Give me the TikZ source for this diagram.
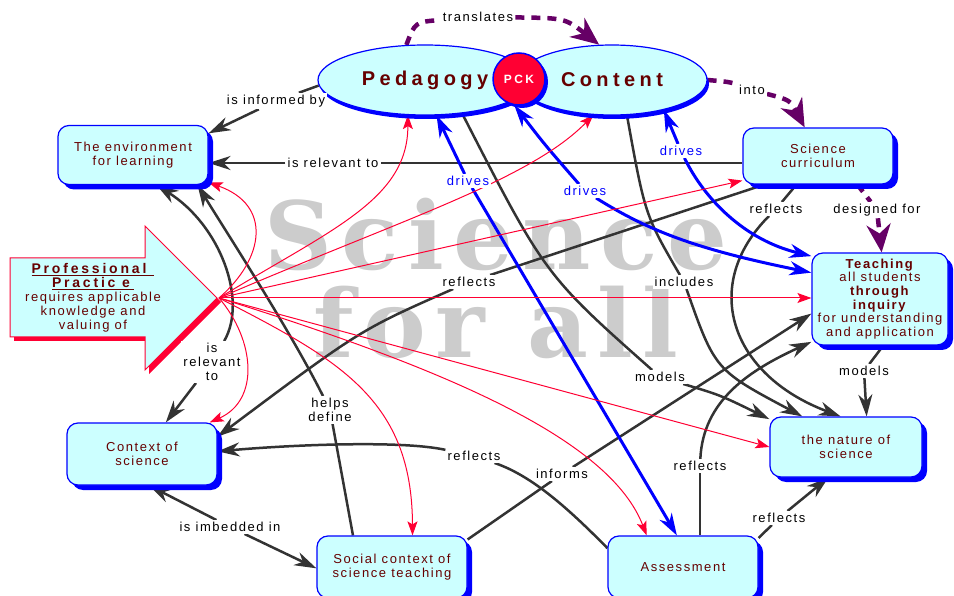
\documentclass[tikz,border=0pt]{standalone}
\usepackage{fontspec}
\setmainfont{Liberation Sans}
\newfontfamily\lblfont{Liberation Sans}[LetterSpace=12]
\newfontfamily\bigfont{Liberation Sans}[LetterSpace=22]
\newfontfamily\ppfont{Liberation Sans}[LetterSpace=20]
\newfontfamily\wmfont{DejaVu Serif}[LetterSpace=10]
\usetikzlibrary{arrows.meta,shapes.geometric,shadows}
\pgfdeclarelayer{wm}
\pgfdeclarelayer{lines}
\pgfsetlayers{wm,lines,main}

\definecolor{boxfill}{HTML}{CCFFFF}
\definecolor{bblue}{HTML}{0000FF}
\definecolor{maroon}{HTML}{660000}
\definecolor{lgray}{HTML}{333333}
\definecolor{pred}{HTML}{FF0033}
\definecolor{purp}{HTML}{660066}
\definecolor{wmgray}{HTML}{CCCCCC}

\tikzset{
  BlkTip/.tip={Stealth[length=22pt,width=14pt,inset=7pt]},
  BluTip/.tip={Stealth[length=22pt,width=14pt,inset=7pt]},
  RedTip/.tip={Stealth[length=14pt,width=10pt,inset=3pt]},
  PurTip/.tip={Stealth[length=28pt,width=24pt,inset=9pt]},
  box/.style={draw=bblue, line width=1.2pt, fill=boxfill, rounded corners=11pt,
    minimum width=150pt, minimum height=60pt, align=center, text=maroon,
    font={\lblfont\fontsize{13}{14}\selectfont}, inner sep=2pt,
    drop shadow={shadow xshift=5pt, shadow yshift=-5pt, fill=bblue, opacity=1}},
  ell/.style={ellipse, draw=bblue, line width=1.2pt, fill=boxfill, inner sep=0pt,
    drop shadow={shadow xshift=2pt, shadow yshift=-4pt, fill=bblue, opacity=1},
    text=maroon, font={\bigfont\bfseries\fontsize{20}{22}\selectfont}},
  lbl/.style={fill=white, inner sep=2pt, align=center,
    font={\lblfont\fontsize{13}{14}\selectfont}, text=black},
  blbl/.style={lbl, text=bblue},
  wmtext/.style={inner sep=0pt, anchor=base, text=wmgray, text depth=0pt,
    font={\wmfont\bfseries\fontsize{94}{94}\selectfont}},
  blk/.style={draw=lgray, line width=2.5pt},
  blu/.style={draw=bblue, line width=3pt},
  red1/.style={draw=pred, line width=1pt, -{RedTip}},
  pur/.style={draw=purp, line width=4.5pt, dash pattern=on 9pt off 7pt}
}

\begin{document}
\begin{tikzpicture}[x=1pt,y=-1pt]
\useasboundingbox (0,0) rectangle (954,596);
\clip (0,0) rectangle (954,596);

% watermark
\begin{pgfonlayer}{wm}
\node[wmtext] (wm1) at (496,270) {Science};
\node[wmtext] (wm2) at (496,358) {for all};
\end{pgfonlayer}

% Professional practice arrow
\fill[pred] (14,262) -- (149,262) -- (149,230) -- (221,302) -- (149,374) -- (149,341) -- (14,341) -- cycle;
\draw[pred, line width=1pt, fill=boxfill] (10,258) -- (145,258) -- (145,226) -- (217,298) -- (145,370) -- (145,337) -- (10,337) -- cycle;
\coordinate (pptip) at (219,298);
\node[align=center, text=maroon, font={\lblfont\fontsize{13}{14}\selectfont}] (pp) at (93,298)
  {{\ppfont\bfseries\fontsize{14}{15}\selectfont\underline{Professional\hspace{8pt}}}\\
   {\ppfont\bfseries\fontsize{14}{15}\selectfont\underline{Practic e\hspace{4pt}}}\\
   requires applicable\\knowledge and\\valuing of};

% main concepts
\node[ell, minimum width=214pt, minimum height=70pt] (ped) at (425,80) {Pedagogy};
\node[ell, minimum width=190pt, minimum height=70pt] (con) at (612,80) {Content};
\node[circle, fill=pred, draw=bblue, line width=1.5pt, minimum size=52pt, inner sep=0pt,
  text=white, font={\ppfont\bfseries\fontsize{12}{12}\selectfont},
  drop shadow={shadow xshift=3pt, shadow yshift=-3pt, fill=bblue, opacity=1}] (pck) at (519,79) {PCK};

\node[box, minimum height=59pt] (env) at (133,155) {The environment\\for learning};
\node[box, minimum height=56pt] (cur) at (818,156) {Science\\curriculum};
\node[box, minimum width=136pt, minimum height=92pt, font={\lblfont\fontsize{13}{13.6}\selectfont}] (tea) at (880,299)
  {\textbf{Teaching}\\all students\\\textbf{through}\\\textbf{inquiry}\\for understanding\\and application};
\node[box, minimum height=62pt] (ctx) at (142,454) {Context of\\science};
\node[box, minimum height=62pt] (soc) at (392,567) {Social context of\\science teaching};
\node[box, minimum width=152pt, minimum height=60pt] (nat) at (846,447) {the nature of\\science};
\node[box, minimum height=62pt] (ass) at (683,567) {Assessment};

% linking phrases
\node[lbl] (tr) at (478,17) {translates};
\node[lbl] (into) at (752,90) {into};
\node[lbl] (des) at (877,210) {designed for};
\node[lbl] (inf) at (276,101) {is informed by};
\node[lbl] (rel1) at (333,163) {is relevant to};
\node[lbl] (rel2) at (212,362) {is\\relevant\\to};
\node[lbl] (hd) at (330,410) {helps\\define};
\node[lbl] (rf1) at (469,282) {reflects};
\node[lbl] (rf2) at (776,209) {reflects};
\node[lbl] (inc) at (684,282) {includes};
\node[lbl] (mo1) at (660,377) {models};
\node[lbl] (mo2) at (864,371) {models};
\node[lbl] (infm) at (562,474) {informs};
\node[lbl] (rf3) at (700,466) {reflects};
\node[lbl] (rf4) at (779,518) {reflects};
\node[lbl] (rf5) at (474,456) {reflects};
\node[lbl] (imb) at (230,527) {is imbedded in};
\node[blbl] (dr1) at (468,181) {drives};
\node[blbl] (dr2) at (585,191) {drives};
\node[blbl] (dr3) at (681,151) {drives};

\begin{pgfonlayer}{lines}
% purple dashed
\draw[pur] (ped.118) .. controls (415,22) .. (tr);
\draw[pur, -{PurTip}] (tr) .. controls (565,18) .. (con.110);
\draw[pur] (con.east) .. controls (730,82) .. (into);
\draw[pur, -{PurTip}] (into) .. controls (790,100) .. (cur.115);
\draw[pur] (cur.-36) -- (des);
\draw[pur, -{PurTip}] (des) -- (tea.88);

% black
\draw[blk] (ped.183) -- (inf);
\draw[blk, -{BlkTip}] (inf) -- (env.16);
\draw[blk] (cur.west |- rel1) -- (rel1);
\draw[blk, -{BlkTip}] (rel1) -- (rel1 -| env.east);
\draw[blk, -{BlkTip}] (rel2) .. controls (248,300) and (220,225) .. (env.-52);
\draw[blk, -{BlkTip}] (rel2) -- (ctx.53);
\draw[blk] (soc.141) -- (hd);
\draw[blk, -{BlkTip}] (hd) .. controls (290,330) and (225,230) .. (env.-25);
\draw[blk] (cur.208) -- (rf1);
\draw[blk, -{BlkTip}] (rf1) .. controls (360,330) .. (ctx.13);
\draw[blk] (cur.-127) -- (rf2);
\draw[blk, -{BlkTip}] (rf2) .. controls (700,285) and (730,375) .. (nat.100);
\draw[blk] (con.-67) .. controls (645,215) .. (inc);
\draw[blk, -{BlkTip}] (inc) .. controls (715,370) .. (nat.145);
\draw[blk] (ped.-42) .. controls (545,275) .. (mo1);
\draw[blk, -{BlkTip}] (mo1) .. controls (720,395) .. (nat.160);
\draw[blk] (tea.-86) -- (mo2);
\draw[blk, -{BlkTip}] (mo2) -- (nat.56);
\draw[blk] (soc.20) -- (infm);
\draw[blk, -{BlkTip}] (infm) -- (tea.192);
\draw[blk] (rf3 |- ass.north) -- (rf3);
\draw[blk, -{BlkTip}] (rf3) .. controls (703,400) and (750,370) .. (tea.212);
\draw[blk] (ass.21) -- (rf4);
\draw[blk, -{BlkTip}] (rf4) -- (nat.-120);
\draw[blk] (ass.166) .. controls (565,505) and (530,475) .. (rf5);
\draw[blk, -{BlkTip}] (rf5) .. controls (400,440) and (290,445) .. (ctx.2);
\draw[blk, -{BlkTip}] (imb) -- (ctx.-77);
\draw[blk, -{BlkTip}] (imb) -- (soc.181);

% blue
\draw[blu, -{BluTip}] (dr1) -- (ped.-72);
\draw[blu, -{BluTip}] (dr1) -- (ass.101);
\draw[blu, -{BluTip}] (dr2) .. controls (545,145) .. (pck.-100);
\draw[blu, -{BluTip}] (dr2) .. controls (650,232) and (700,250) .. (tea.159);
\draw[blu, -{BluTip}] (dr3) -- (con.-30);
\draw[blu, -{BluTip}] (dr3) .. controls (705,200) and (745,240) .. (tea.148);

% red from professional practice
\draw[red1] (pptip) .. controls (265,258) and (272,205) .. (env.-20);
\draw[red1] (pptip) .. controls (330,230) and (408,200) .. (ped.-116);
\draw[red1] (pptip) .. controls (400,220) and (530,180) .. (con.-118);
\draw[red1] (pptip) -- (cur.198);
\draw[red1] (pptip) -- (pptip -| tea.west);
\draw[red1] (pptip) -- (nat.west);
\draw[red1] (pptip) .. controls (450,370) and (610,440) .. (ass.139);
\draw[red1] (pptip) .. controls (340,360) and (412,400) .. (soc.57);
\draw[red1] (pptip) .. controls (255,340) and (260,400) .. (ctx.25);
\end{pgfonlayer}
\end{tikzpicture}
\end{document}
